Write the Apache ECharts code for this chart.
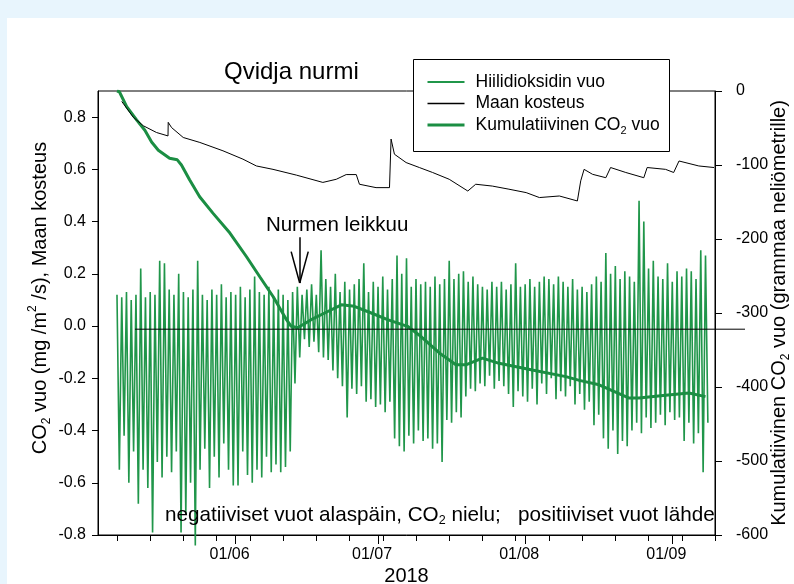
<!DOCTYPE html>
<html><head><meta charset="utf-8">
<script src="https://cdn.jsdelivr.net/npm/echarts@6/dist/echarts.min.js"></script>
<style>
html,body{margin:0;padding:0;background:#e8f5fd;width:794px;height:584px;overflow:hidden;}
#panel{position:absolute;left:7px;top:18px;width:787px;height:566px;background:#fff;}
#chart{position:absolute;left:0;top:0;width:794px;height:584px;}
</style></head><body>
<div id="panel"></div><div id="chart"></div>
<script>
// ---------- data ----------
const fluxFirstDay = '05-07';
const fluxDailyMax = [
 0.12,0.11,0.13,0.10,0.12, 0.22,0.11,0.13,0.12,0.25, 0.24,0.14,0.12,0.20,0.13,
 0.11,0.14,0.25,0.12,0.10, 0.14,0.12,0.16,0.11,0.13, 0.12,0.15,0.11,0.14,0.19,
 0.13,0.12,0.15,0.11,0.14, 0.12,0.10,0.13,0.15,0.12, 0.14,0.16,0.12,0.29,0.18,
 0.15,0.20,0.13,0.17,0.14, 0.16,0.18,0.24,0.13,0.17, 0.15,0.19,0.14,0.18,0.27,
 0.20,0.26,0.15,0.18,0.16, 0.17,0.15,0.19,0.16,0.18, 0.25,0.18,0.20,0.21,0.17,
 0.19,0.16,0.15,0.14,0.17, 0.15,0.17,0.14,0.16,0.24, 0.15,0.16,0.18,0.15,0.17,
 0.19,0.18,0.16,0.19,0.17, 0.15,0.18,0.14,0.15,0.13, 0.16,0.19,0.17,0.28,0.20,
 0.23,0.18,0.21,0.19,0.17, 0.48,0.40,0.22,0.25,0.19, 0.18,0.24,0.17,0.21,0.19,
 0.22,0.21,0.18,0.29,0.27];
const fluxDailyMin = [
 -0.55,-0.42,-0.60,-0.48,-0.68, -0.55,-0.62,-0.79,-0.52,-0.58, -0.50,-0.56,-0.48,-0.79,-0.72,
 -0.60,-0.84,-0.55,-0.47,-0.62, -0.50,-0.58,-0.45,-0.55,-0.61, -0.61,-0.48,-0.57,-0.60,-0.55,
 -0.58,-0.50,-0.56,-0.53,-0.56, -0.54,-0.48,-0.22,-0.12,-0.05, -0.08,-0.06,-0.10,-0.12,-0.13,
 -0.17,-0.20,-0.23,-0.35,-0.24, -0.26,-0.23,-0.29,-0.28,-0.31, -0.30,-0.33,-0.29,-0.43,-0.46,
 -0.48,-0.42,-0.45,-0.40,-0.44, -0.43,-0.47,-0.45,-0.52,-0.36, -0.37,-0.33,-0.35,-0.27,-0.24,
 -0.25,-0.22,-0.23,-0.19,-0.24, -0.21,-0.23,-0.26,-0.31,-0.25, -0.27,-0.29,-0.24,-0.30,-0.22,
 -0.26,-0.20,-0.28,-0.25,-0.27, -0.23,-0.30,-0.26,-0.32,-0.29, -0.38,-0.34,-0.43,-0.47,-0.40,
 -0.49,-0.44,-0.46,-0.40,-0.37, -0.41,-0.35,-0.39,-0.37,-0.34, -0.38,-0.33,-0.36,-0.35,-0.44,
 -0.37,-0.45,-0.41,-0.56,-0.37];

const moistDates = ['05-08 00','05-10 10','05-12 13','05-15 08','05-17 18','05-17 19','05-18 12','05-20 23','05-24 11','05-29 08',
 '06-02 13','06-05 09','06-08 21','06-13 19','06-19 09','06-22 05','06-24 07','06-26 10','06-27 02','06-30 14',
 '07-03 10','07-03 18','07-04 11','07-06 22','07-09 17','07-12 12','07-16 00','07-19 22','07-21 14','07-25 02',
 '07-28 14','08-01 05','08-04 00','08-08 05','08-12 00','08-12 17','08-13 10','08-15 05','08-18 00','08-19 00',
 '08-22 05','08-26 00','08-26 17','08-30 14','09-01 07','09-02 10','09-06 14','09-09 19'];
const moistValues = [0.86,0.80,0.767,0.741,0.728,0.78,0.76,0.722,0.703,0.671,
 0.639,0.613,0.60,0.578,0.55,0.562,0.58,0.58,0.543,0.53,
 0.53,0.716,0.658,0.626,0.607,0.588,0.562,0.517,0.543,0.536,
 0.524,0.511,0.492,0.498,0.479,0.556,0.60,0.581,0.568,0.607,
 0.588,0.568,0.607,0.60,0.588,0.632,0.613,0.607];

const cumDates = ['05-07 00','05-07 12','05-09 01','05-11 03','05-12 21','05-14 07','05-15 17','05-18 02','05-19 17','05-20 14',
 '05-22 07','05-24 10','05-27 05','05-30 19','06-03 07','06-06 02','06-08 22','06-11 17','06-12 17','06-14 02',
 '06-16 22','06-20 10','06-23 07','06-26 00','06-29 14','07-03 00','07-07 05','07-09 17','07-13 22','07-17 10',
 '07-19 12','07-23 00','07-26 12','08-02 12','08-09 14','08-12 10','08-16 14','08-22 22','08-25 00','08-30 14',
 '09-04 12','09-08 00'];
const cumValues = [0,-1,-21,-39,-53,-69,-80,-91,-93,-100,
 -120,-143,-165,-192,-224,-251,-278,-309,-318,-320,
 -309,-298,-289,-291,-300,-309,-318,-330,-354,-370,
 -370,-361,-368,-377,-386,-391,-397,-415,-415,-411,
 -408,-413];

const zeroLineDates = ['05-10 19','09-16 07'];
const zeroLineLevel = -0.012;

const monthTickDates = ['06-01','07-01','08-01','09-01'];
const weekTickDates = ['05-07','05-14','05-21','05-28','06-04','06-11','06-18','06-25','07-02','07-09','07-16',
 '07-23','07-30','08-06','08-13','08-20','08-27','09-03','09-10'];
const leftTicks = [-0.8,-0.6,-0.4,-0.2,0.0,0.2,0.4,0.6,0.8];
const cutDate = '06-14 12';
const cutLabelDate = '06-22 09';

// ---------- helpers ----------
function ts(s){ const p=s.split(' '); const md=p[0].split('-').map(Number); return Date.UTC(2018, md[0]-1, md[1], p[1]?+p[1]:0); }
const DAY = 86400000;
const xMin = ts('05-03'), xMax = ts('09-10');
const FONT = '"Liberation Sans", Arial, sans-serif';
const GREEN = '#20964a', GREEN2 = '#1b8e43';

const fluxData = [];
const f0 = ts(fluxFirstDay);
for (let i=0;i<fluxDailyMax.length;i++){
  fluxData.push([f0 + i*DAY, fluxDailyMax[i]]);
  fluxData.push([f0 + i*DAY + DAY/2, fluxDailyMin[i]]);
}
const moistData = moistDates.map((d,i)=>[ts(d), moistValues[i]]);
const cumData = cumDates.map((d,i)=>[ts(d), cumValues[i]]);
const zeroData = zeroLineDates.map(d=>[ts(d), zeroLineLevel]);
const cutTs = ts(cutDate);

function pad(n){return (n<10?'0':'')+n;}

const chart = echarts.init(document.getElementById('chart'), null, {renderer:'canvas'});
chart.setOption({
  animation:false,
  backgroundColor:'transparent',
  textStyle:{fontFamily:FONT, color:'#000'},
  title:{text:'Qvidja nurmi', left:219, top:55, textStyle:{fontSize:24, fontWeight:'normal', color:'#000', fontFamily:FONT}},
  legend:{
    data:[{name:'Hiilidioksidin vuo', lineStyle:{width:2}},
          {name:'Maan kosteus', lineStyle:{width:1.5}},
          {name:'Kumulatiivinen CO2 vuo', lineStyle:{width:3}}],
    orient:'vertical', left:413, top:73, selectedMode:false, z:10,
    padding:[0,13,0,13], itemWidth:37, itemHeight:1, itemGap:3.5,
    formatter:function(n){ return n==='Kumulatiivinen CO2 vuo' ? '{t|Kumulatiivinen CO}{s|2}{t| vuo}' : '{t|'+n+'}'; },
    textStyle:{padding:[0,0,0,6], rich:{
      t:{fontSize:17.5, fontFamily:FONT, color:'#000', lineHeight:22},
      s:{fontSize:11, fontFamily:FONT, color:'#000', lineHeight:22, verticalAlign:'bottom'}
    }}
  },
  grid:[
    {left:98, right:79, top:91, bottom:49, outerBoundsMode:'none', containLabel:false,
     show:true, borderColor:'#000', borderWidth:1, backgroundColor:'transparent'},
    {left:98, right:49, top:91, bottom:49, outerBoundsMode:'none', containLabel:false}
  ],
  xAxis:[
    {type:'value', gridIndex:0, min:xMin, max:xMax, position:'bottom',
     axisLine:{show:true, onZero:false, lineStyle:{color:'#000', width:1}},
     axisTick:{show:true, length:9, customValues:monthTickDates.map(ts), lineStyle:{color:'#000'}},
     axisLabel:{customValues:monthTickDates.map(ts), fontSize:16, color:'#000', margin:12, fontFamily:FONT,
       padding:[0,12,0,0],
       formatter:function(v){const d=new Date(v); return pad(d.getUTCDate())+'/'+pad(d.getUTCMonth()+1);}},
     splitLine:{show:false},
     name:'2018', nameLocation:'middle', nameGap:31, nameMoveOverlap:false,
     nameTextStyle:{fontSize:20, color:'#000', fontFamily:FONT}},
    {type:'value', gridIndex:0, min:xMin, max:xMax, position:'bottom',
     axisLine:{show:false, onZero:false},
     axisTick:{show:true, length:6, customValues:weekTickDates.map(ts), lineStyle:{color:'#000'}},
     axisLabel:{show:false}, splitLine:{show:false}},
    {type:'value', gridIndex:1, min:xMin, max:ts(zeroLineDates[1]), show:false, axisLine:{onZero:false}}
  ],
  yAxis:[
    {type:'value', gridIndex:0, position:'left', min:-0.8, max:0.9, interval:0.2,
     axisLine:{show:true, onZero:false, lineStyle:{color:'#000'}},
     axisTick:{show:true, length:6, customValues:leftTicks, lineStyle:{color:'#000'}},
     axisLabel:{customValues:leftTicks, fontSize:16, color:'#000', margin:12, fontFamily:FONT,
       formatter:function(v){return v.toFixed(1);}},
     splitLine:{show:false},
     name:'{a|CO}{b|2}{a| vuo (mg /m}{c|2}{a| /s), Maan kosteus}', nameLocation:'middle', nameRotate:90, nameGap:45,
     nameMoveOverlap:false,
     nameTextStyle:{padding:[0,0,0,30], rich:{
       a:{fontSize:20, fontFamily:FONT, color:'#000', lineHeight:26},
       b:{fontSize:12, fontFamily:FONT, color:'#000', lineHeight:26, verticalAlign:'bottom'},
       c:{fontSize:12, fontFamily:FONT, color:'#000', lineHeight:26, verticalAlign:'top'}}}},
    {type:'value', gridIndex:0, position:'right', min:-600, max:0, interval:100,
     axisLine:{show:true, onZero:false, lineStyle:{color:'#000'}},
     axisTick:{show:true, length:7, lineStyle:{color:'#000'}},
     axisLabel:{fontSize:16, color:'#000', margin:21, fontFamily:FONT},
     splitLine:{show:false},
     name:'{a|Kumulatiivinen CO}{b|2}{a| vuo (grammaa neliömetrille)}', nameLocation:'middle', nameRotate:90, nameGap:51,
     nameMoveOverlap:false,
     nameTextStyle:{rich:{
       a:{fontSize:20, fontFamily:FONT, color:'#000', lineHeight:26},
       b:{fontSize:12, fontFamily:FONT, color:'#000', lineHeight:26, verticalAlign:'bottom'}}}},
    {type:'value', gridIndex:1, min:-0.8, max:0.9, show:false}
  ],
  graphic:[
    {type:'rect', z:9, shape:{x:413.5, y:59.5, width:256, height:92}, style:{fill:'#fff', stroke:'#000', lineWidth:1}},
    {type:'text', left:165, top:505, z:100, style:{
      text:'{t|negatiiviset vuot alaspäin, CO}{s|2}{t| nielu;   positiiviset vuot lähde}',
      rich:{t:{fontSize:20.7, fontFamily:FONT, fill:'#000', lineHeight:24},
            s:{fontSize:12.5, fontFamily:FONT, fill:'#000', lineHeight:24, verticalAlign:'bottom'}}}}
  ],
  series:[
    {name:'Hiilidioksidin vuo', type:'line', xAxisIndex:0, yAxisIndex:0, data:fluxData, symbol:'none', clip:false,
     lineStyle:{color:GREEN, width:1.6}, itemStyle:{color:GREEN}, z:2,
     markLine:{silent:true, symbol:['none','none'], label:{show:false}, lineStyle:{color:'#000', width:1.5, type:'solid'},
       data:[
         [{coord:[cutTs,0.34]},{coord:[cutTs,0.165]}],
         [{coord:[cutTs-1.8*DAY,0.285]},{coord:[cutTs,0.165]}],
         [{coord:[cutTs+1.8*DAY,0.285]},{coord:[cutTs,0.165]}]
       ]},
     markPoint:{silent:true, symbol:'circle', symbolSize:1, itemStyle:{color:'rgba(0,0,0,0)'},
       label:{show:true, position:'inside', color:'#000', fontSize:20.5, fontFamily:FONT, formatter:'Nurmen leikkuu'},
       data:[{coord:[ts(cutLabelDate),0.385]}]}
    },
    {name:'Kumulatiivinen CO2 vuo', type:'line', xAxisIndex:0, yAxisIndex:1, data:cumData, symbol:'none',
     lineStyle:{color:GREEN2, width:3}, itemStyle:{color:GREEN2}, z:3},
    {name:'Maan kosteus', type:'line', xAxisIndex:0, yAxisIndex:0, data:moistData, symbol:'none',
     lineStyle:{color:'#000', width:1}, itemStyle:{color:'#000'}, z:4},
    {name:'zero', type:'line', xAxisIndex:2, yAxisIndex:2, data:zeroData, symbol:'none', clip:false,
     lineStyle:{color:'#000', width:1}, z:5, silent:true}
  ]
});
</script></body></html>
